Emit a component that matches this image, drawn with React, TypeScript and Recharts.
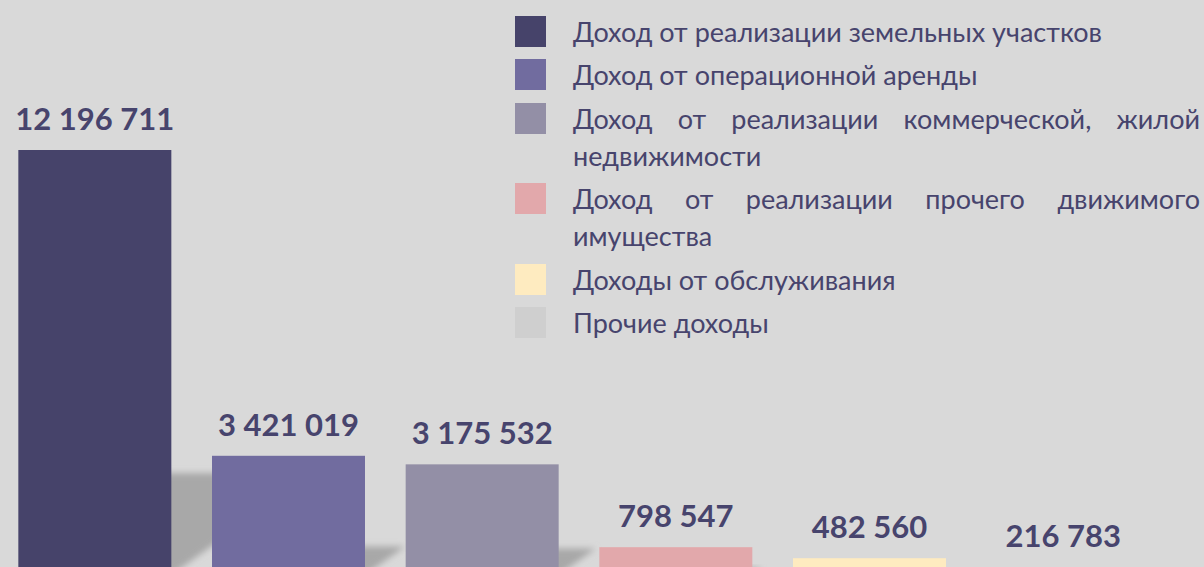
import React from "react";
import { BarChart, Bar, XAxis, YAxis, Cell, LabelList } from "recharts";

const categories = [
  "Доход от реализации земельных участков",
  "Доход от операционной аренды",
  "Доход от реализации коммерческой, жилой недвижимости",
  "Доход от реализации прочего движимого имущества",
  "Доходы от обслуживания",
  "Прочие доходы",
];
const values = [12196711, 3421019, 3175532, 798547, 482560, 216783];
const colors = ["#46436a", "#716c9f", "#938fa6", "#e2a8ab", "#feebc0", "#cfcfcf"];

const data = categories.map((name, i) => ({ name, value: values[i], color: colors[i] }));
const maxValue = Math.max(...values);

const FONT = "Lato, 'Open Sans', sans-serif";
const TEXT = "#47446d";

const fmtNum = (v: any) => String(v).replace(/\B(?=(\d{3})+(?!\d))/g, " ");

// bar with a slanted floor shadow cast to the upper right
function ShadowBar(props: any) {
  const { x, y, width, height, fill } = props;
  const base = y + height;
  const sh = height * 0.24;
  const d = sh * 1.4;
  const pts = `${x},${base} ${x + width},${base} ${x + width + d},${base - sh} ${x + d},${base - sh}`;
  return (
    <g>
      <polygon points={pts} fill="#a8a8a8" filter="url(#shadowBlur)" />
      <rect x={x} y={y} width={width} height={height} fill={fill} />
    </g>
  );
}

function LegendBox() {
  return (
    <div style={{ fontFamily: FONT, color: TEXT, fontSize: 27, width: 685 }}>
      {categories.map((c, i) => (
        <div key={c} style={{ display: "flex", alignItems: "flex-start", marginBottom: 6.5 }}>
          <div style={{ width: 31, height: 31, background: colors[i], marginTop: 3, flexShrink: 0 }} />
          <div style={{ marginLeft: 27, width: 627, lineHeight: "37px", textAlign: "justify" }}>{c}</div>
        </div>
      ))}
    </div>
  );
}

export default function App() {
  return (
    <div
      style={{
        position: "fixed",
        left: 0,
        top: 0,
        width: 1204,
        height: 567,
        background: "#d9d9d9",
        overflow: "hidden",
      }}
    >
      <div style={{ position: "absolute", left: -2, top: 0 }}>
        <BarChart
          width={1162}
          height={575}
          data={data}
          margin={{ top: 150, right: 0, bottom: 0, left: 0 }}
          barCategoryGap="10.5%"
        >
          <defs>
            <filter id="shadowBlur" x="-50%" y="-50%" width="200%" height="200%">
              <feGaussianBlur stdDeviation="3" />
            </filter>
          </defs>
          <XAxis dataKey="name" hide />
          <YAxis hide domain={[0, maxValue]} />
          <Bar dataKey="value" isAnimationActive={false} shape={ShadowBar}>
            {data.map((d, i) => (
              <Cell key={i} fill={d.color} />
            ))}
            <LabelList
              dataKey="value"
              position="top"
              offset={20}
              formatter={fmtNum}
              style={{ fontFamily: FONT, fontWeight: 700, fontSize: 31, fill: TEXT }}
            />
          </Bar>
        </BarChart>
      </div>
      <div style={{ position: "absolute", left: 515, top: 12.5 }}>
        <LegendBox />
      </div>
    </div>
  );
}
